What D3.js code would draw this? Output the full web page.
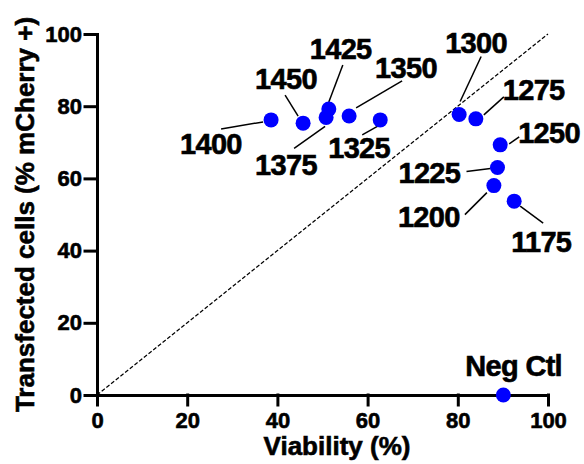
<!DOCTYPE html>
<html>
<head>
<meta charset="utf-8">
<script src="https://cdn.jsdelivr.net/npm/d3@7"></script>
<style>
  body { margin: 0; background: #fff; }
  svg { display: block; font-family: "Liberation Sans", Arial, sans-serif; font-weight: bold; }
  svg text { stroke: #000; stroke-width: 0.6px; }
</style>
</head>
<body>
<svg id="chart" width="584" height="464"></svg>
<script>
// condition labels (electroporation voltage) and measured values
var labels    = ['1175', '1200', '1225', '1250', '1275', '1300', '1325', '1350', '1375', '1400', '1425', '1450', 'Neg Ctl'];
var viability = [92.5, 88.0, 88.8, 89.4, 84.0, 80.3, 62.8, 55.9, 50.8, 38.6, 51.4, 45.7, 90.1];
var transfected = [53.7, 58.0, 63.0, 69.3, 76.5, 77.7, 76.2, 77.3, 76.9, 76.2, 79.2, 75.3, 0];

var xTicks = [0, 20, 40, 60, 80, 100];
var yTicks = [0, 20, 40, 60, 80, 100];

// label placement, in px relative to the dot: text [dx, dy], leader [x1, y1, x2, y2]
var labelText = [[-3, 51], [-96, 41], [-99, 15], [18, -2], [27, -19], [-14, -62], [-52, 38],
                 [26, -38], [-71, 58], [-91, 34], [-19, -50], [-48, -34], [-38, -19]];
var labelLine = [[29, 22, 6, 5], [-29, 29, -7, 7], [-31, 4, -7, 1], [19, -8, 9, -1], [28, -22, 8, -4],
                 [22, -58, 1, -13], [-18, 15, -2, 6], [53, -35, 7, -8], [-32, 31, -1, 9],
                 [-50, 9, -8, 2], [14, -44, 0, -7], [-18, -28, -5, -7], null];

var margin = {top: 34, right: 36, bottom: 69, left: 97};
var svg = d3.select('#chart');
var width  = +svg.attr('width')  - margin.left - margin.right;
var height = +svg.attr('height') - margin.top  - margin.bottom;

var x = d3.scaleLinear().domain([0, 100]).range([0, width]);
var y = d3.scaleLinear().domain([0, 100]).range([height, 0]);

var g = svg.append('g')
  .attr('transform', 'translate(' + margin.left + ',' + margin.top + ')');

// identity line
g.append('line')
  .attr('x1', x(0)).attr('y1', y(0))
  .attr('x2', x(100)).attr('y2', y(100))
  .attr('stroke', '#000')
  .attr('stroke-width', 1.2)
  .attr('stroke-dasharray', '4,2');

// axes
var xAxis = g.append('g')
  .attr('transform', 'translate(0,' + height + ')')
  .call(d3.axisBottom(x).tickValues(xTicks).tickSizeInner(10).tickSizeOuter(0).tickPadding(7));

var yAxis = g.append('g')
  .call(d3.axisLeft(y).tickValues(yTicks).tickSizeInner(12).tickSizeOuter(0).tickPadding(3));

[xAxis, yAxis].forEach(function(ax){
  ax.selectAll('path, line')
    .attr('stroke', '#000')
    .attr('stroke-width', 3)
    .attr('stroke-linecap', 'square');
  ax.selectAll('text')
    .attr('fill', '#000')
    .style('font-size', '22px')
    .style('font-weight', 'bold')
    .style('font-family', '"Liberation Sans", Arial, sans-serif');
});

// axis titles
svg.append('text')
  .attr('x', 337)
  .attr('y', 455)
  .attr('text-anchor', 'middle')
  .style('font-size', '26px')
  .text('Viability (%)');

svg.append('text')
  .attr('transform', 'translate(34,' + (margin.top + height / 2) + ') rotate(-90)')
  .attr('text-anchor', 'middle')
  .style('font-size', '26px')
  .text('Transfected cells (% mCherry +)');

var pts = labels.map(function(d, i){
  return {label: d, vx: viability[i], vy: transfected[i], t: labelText[i], l: labelLine[i]};
});

// leader lines
g.selectAll('.leader')
  .data(pts.filter(function(d){ return d.l; }))
  .enter()
  .append('line')
  .classed('leader', true)
  .attr('x1', function(d){ return x(d.vx) + d.l[0]; })
  .attr('y1', function(d){ return y(d.vy) + d.l[1]; })
  .attr('x2', function(d){ return x(d.vx) + d.l[2]; })
  .attr('y2', function(d){ return y(d.vy) + d.l[3]; })
  .attr('stroke', '#000')
  .attr('stroke-width', 1.5);

// dots
g.selectAll('.dot')
  .data(pts)
  .enter()
  .append('circle')
  .classed('dot', true)
  .attr('cx', function(d){ return x(d.vx); })
  .attr('cy', function(d){ return y(d.vy); })
  .attr('r', 7.5)
  .attr('fill', '#0000ff');

// point labels
g.selectAll('.plabel')
  .data(pts)
  .enter()
  .append('text')
  .classed('plabel', true)
  .attr('x', function(d){ return x(d.vx) + d.t[0]; })
  .attr('y', function(d){ return y(d.vy) + d.t[1]; })
  .style('font-size', '29px')
  .style('letter-spacing', '-0.7px')
  .text(function(d){ return d.label; });
</script>
</body>
</html>
